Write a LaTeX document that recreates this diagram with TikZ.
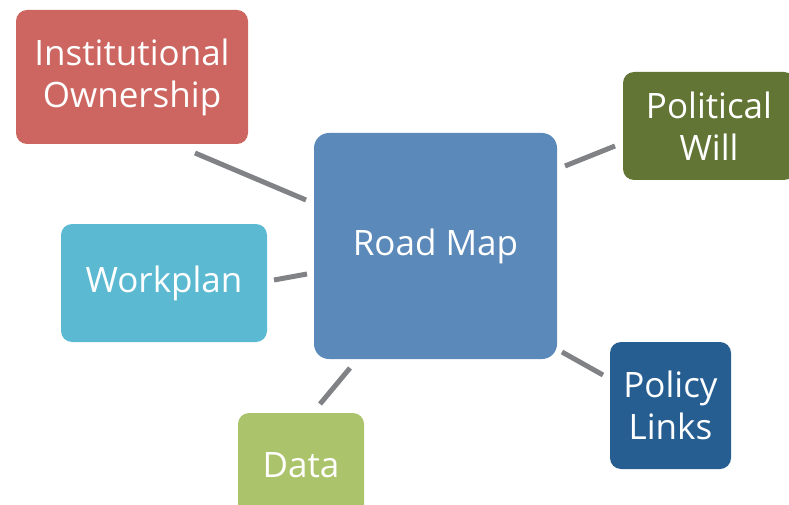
\documentclass[tikz,border=0pt]{standalone}
\usepackage{fontspec}
\setmainfont{Open Sans}
\definecolor{cInst}{HTML}{CD6660}
\definecolor{cRoad}{HTML}{5A89BA}
\definecolor{cPol}{HTML}{627535}
\definecolor{cWork}{HTML}{5BBAD2}
\definecolor{cPolicy}{HTML}{265E92}
\definecolor{cData}{HTML}{ABC46C}
\definecolor{cLine}{HTML}{808285}
\begin{document}
\begin{tikzpicture}[x=1pt,y=-1pt,
  box/.style={rounded corners=11pt, text=white, inner sep=0pt, align=center,
    font=\fontsize{35}{42}\selectfont},
  link/.style={draw=cLine, line width=5pt}]
\useasboundingbox (0,0) rectangle (789,505);
\begin{scope}
\clip (0,0) rectangle (789,505);
\node[box, fill=cInst, minimum width=232pt, minimum height=134pt] (inst) at (132,77) {Institutional\\Ownership};
\node[box, fill=cRoad, minimum width=243pt, minimum height=226pt, rounded corners=15pt] (road) at (435.5,246) {Road Map};
\node[box, fill=cPol, minimum width=172pt, minimum height=108pt] (pol) at (709,126) {Political\\Will};
\node[box, fill=cWork, minimum width=206pt, minimum height=118pt] (work) at (164,283) {Workplan};
\node[box, fill=cPolicy, minimum width=121pt, minimum height=127pt] (policy) at (670.5,405.5) {Policy\\Links};
\node[box, fill=cData, minimum width=126pt, minimum height=104pt] (data) at (301,465) {Data};
\end{scope}
\coordinate (a1) at (195,153); \coordinate (a2) at (306,200);
\coordinate (b1) at (565,166); \coordinate (b2) at (615,146);
\coordinate (c1) at (274,280); \coordinate (c2) at (307,274);
\coordinate (d1) at (562,352); \coordinate (d2) at (603,375);
\coordinate (e1) at (350,368); \coordinate (e2) at (320,404);
\draw[link] (a1) -- (a2);
\draw[link] (b1) -- (b2);
\draw[link] (c1) -- (c2);
\draw[link] (d1) -- (d2);
\draw[link] (e1) -- (e2);
\end{tikzpicture}
\end{document}
